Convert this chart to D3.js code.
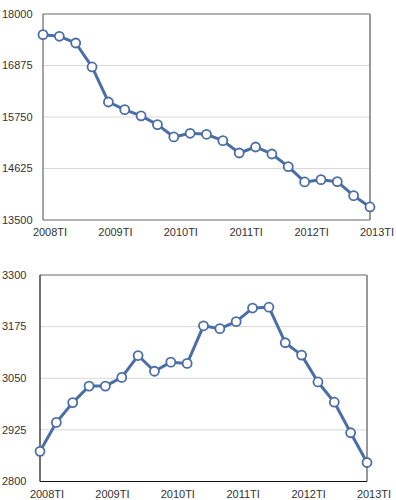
<!DOCTYPE html>
<html>
<head>
<meta charset="utf-8">
<script src="https://cdn.jsdelivr.net/npm/d3@7"></script>
<style>
  body { margin: 0; background: #fff; }
  svg { display: block; font-family: "Liberation Sans", Arial, sans-serif; }
</style>
</head>
<body>
<div id="chart"></div>
<script>
// quarters, first quarter of each year labelled
const quarters = d3.range(21);
const xTickLabels = ["2008TI", "2009TI", "2010TI", "2011TI", "2012TI", "2013TI"];

const topValues = [17548, 17513, 17367, 16843, 16078, 15910, 15775, 15583, 15314, 15394,
  15372, 15233, 14964, 15095, 14942, 14665, 14331, 14381, 14338, 14032, 13785];
const topTicks = [13500, 14625, 15750, 16875, 18000];

const bottomValues = [2873, 2943, 2991, 3031, 3031, 3052, 3105, 3067, 3089, 3086,
  3177, 3170, 3187, 3220, 3222, 3136, 3106, 3041, 2992, 2918, 2846];
const bottomTicks = [2800, 2925, 3050, 3175, 3300];

const svg = d3.select("#chart").append("svg")
  .attr("width", 396)
  .attr("height", 500);

const lineColor = "#4a6ea5";

// draw one panel
function panel(opts) {
  const { left, top, width, height, values, ticks, darkAxes } = opts;
  const x = d3.scaleLinear().domain([0, 20]).range([left, left + width]);
  const y = d3.scaleLinear().domain([ticks[0], ticks[ticks.length - 1]]).range([top + height, top]);
  const g = svg.append("g");

  // gridlines
  g.selectAll(".grid").data(ticks.slice(1, -1)).enter().append("line")
    .attr("x1", left).attr("x2", left + width)
    .attr("y1", d => y(d)).attr("y2", d => y(d))
    .style("stroke", "#d8d8d8").style("stroke-width", 1);

  // frame
  g.append("line").attr("x1", left).attr("x2", left + width).attr("y1", top).attr("y2", top)
    .style("stroke", "#666").style("stroke-width", 1.2);
  g.append("line").attr("x1", left + width).attr("x2", left + width).attr("y1", top).attr("y2", top + height)
    .style("stroke", "#999").style("stroke-width", 2);
  g.append("line").attr("x1", left).attr("x2", left).attr("y1", top).attr("y2", top + height)
    .style("stroke", darkAxes ? "#111" : "#666").style("stroke-width", 1.2);
  g.append("line").attr("x1", left).attr("x2", left + width).attr("y1", top + height).attr("y2", top + height)
    .style("stroke", darkAxes ? "#111" : "#666").style("stroke-width", 1.2);

  // y labels
  g.selectAll(".ylab").data(ticks).enter().append("text")
    .attr("x", 2).attr("y", d => y(d)).attr("dy", "0.35em")
    .style("font-size", "11px").style("fill", "#333")
    .text(d => d);

  // x labels
  g.selectAll(".xlab").data(xTickLabels).enter().append("text")
    .attr("x", (d, i) => x(i * 4) + 7).attr("y", top + height + 16)
    .style("text-anchor", "middle").style("font-size", "11px").style("fill", "#333")
    .text(d => d);

  // line
  const line = d3.line().x(i => x(i)).y(i => y(values[i]));
  g.append("path").datum(quarters)
    .attr("d", line)
    .style("fill", "none").style("stroke", lineColor).style("stroke-width", 3)
    .style("stroke-linejoin", "round");

  g.selectAll(".pt").data(quarters).enter().append("circle")
    .attr("cx", i => x(i)).attr("cy", i => y(values[i])).attr("r", 4.5)
    .style("fill", "#fff").style("stroke", lineColor).style("stroke-width", 1.8);
}

panel({ left: 43, top: 14, width: 327, height: 206, values: topValues, ticks: topTicks, darkAxes: false });
panel({ left: 40, top: 275, width: 327, height: 206.5, values: bottomValues, ticks: bottomTicks, darkAxes: true });
</script>
</body>
</html>
